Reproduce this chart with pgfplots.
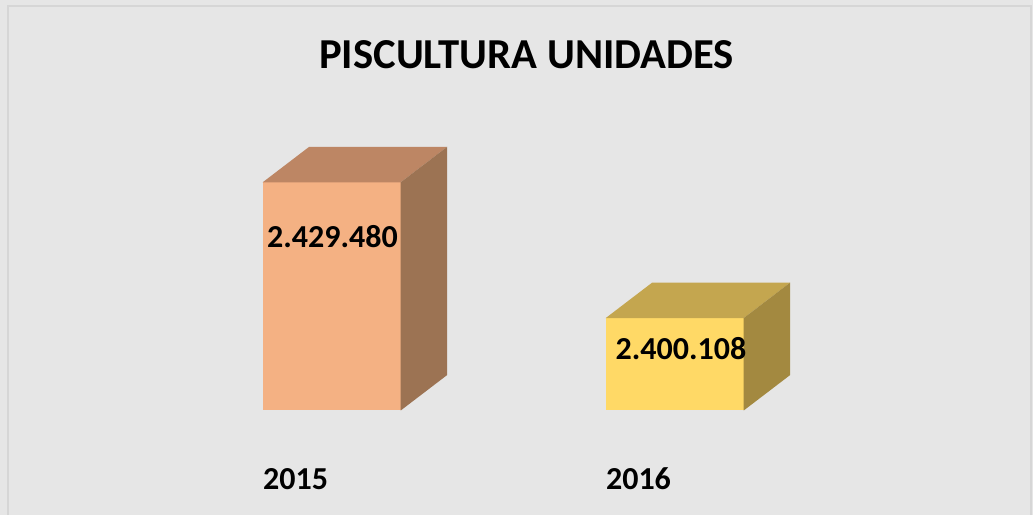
\documentclass[border=0pt]{standalone}
\usepackage{pgfplots}
\pgfplotsset{compat=1.18}
\usepackage{fontspec}
\setmainfont{Carlito}
\definecolor{bg}{HTML}{E6E6E6}
\definecolor{frame}{HTML}{D6D6D6}
\definecolor{oFront}{HTML}{F4B183}
\definecolor{oTop}{HTML}{BD8664}
\definecolor{oSide}{HTML}{9C7353}
\definecolor{yFront}{HTML}{FFD966}
\definecolor{yTop}{HTML}{C4A64F}
\definecolor{ySide}{HTML}{A38940}
\begin{document}
\begin{tikzpicture}
\begin{axis}[
  scale only axis,
  width=774.75pt, height=386.25pt,
  xmin=-0.96706, xmax=2.04461,
  ymin=2357519, ymax=2468913,
  axis lines=none,
  xtick=\empty, ytick=\empty,
  clip=false,
  axis background/.style={fill=bg},
]
% frame
\draw[frame, line width=1.2pt] (rel axis cs:0.0077,0) -- (rel axis cs:0.0077,0.9883) -- (rel axis cs:0.9981,0.9883) -- (rel axis cs:0.9981,0);
% Bar 2015 (value 2429480)
\addplot[fill=oFront, draw=none] coordinates {(-0.20117,2380122) (0.20117,2380122) (0.20117,2429480) (-0.20117,2429480)} -- cycle;
\addplot[fill=oTop, draw=none] coordinates {(-0.20117,2429480) (-0.0656,2437159) (0.33674,2437159) (0.20117,2429480)} -- cycle;
\addplot[fill=oSide, draw=none] coordinates {(0.20117,2380122) (0.33674,2387801) (0.33674,2437159) (0.20117,2429480)} -- cycle;
% Bar 2016 (value 2400108)
\addplot[fill=yFront, draw=none] coordinates {(0.79883,2380122) (1.20117,2380122) (1.20117,2400108) (0.79883,2400108)} -- cycle;
\addplot[fill=yTop, draw=none] coordinates {(0.79883,2400108) (0.9344,2407787) (1.33674,2407787) (1.20117,2400108)} -- cycle;
\addplot[fill=ySide, draw=none] coordinates {(1.20117,2380122) (1.33674,2387801) (1.33674,2407787) (1.20117,2400108)} -- cycle;
% labels
\node[font=\fontsize{24pt}{28pt}\selectfont\bfseries] at (axis cs:0.0023,2417758) {2.429.480};
\node[font=\fontsize{24pt}{28pt}\selectfont\bfseries] at (axis cs:1.0184,2393533) {2.400.108};
\node[font=\fontsize{24pt}{28pt}\selectfont\bfseries] at (rel axis cs:0.2861,0.0699) {2015};
\node[font=\fontsize{24pt}{28pt}\selectfont\bfseries] at (rel axis cs:0.6181,0.0699) {2016};
\node[font=\fontsize{32pt}{38pt}\selectfont\bfseries] at (rel axis cs:0.5097,0.8932) {PISCULTURA UNIDADES};
\end{axis}
\end{tikzpicture}
\end{document}
